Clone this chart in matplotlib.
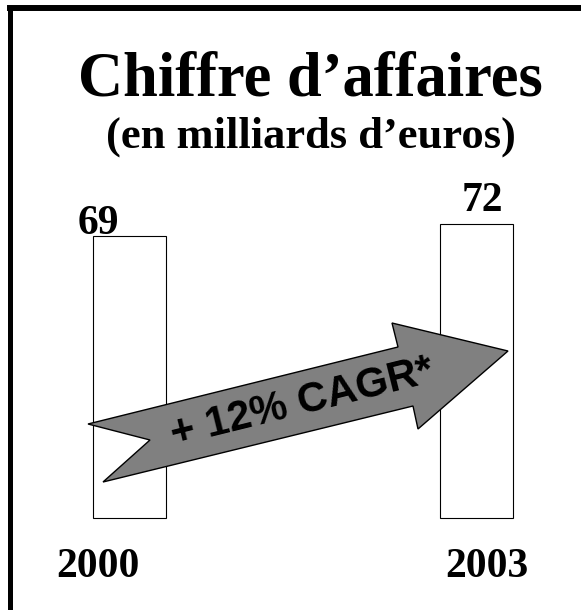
import matplotlib
matplotlib.use("Agg")
import matplotlib.pyplot as plt
from matplotlib.patches import Polygon
from matplotlib.lines import Line2D

# ---- data ----
years = ["2000", "2003"]
values = [69, 72]
value_labels = ["69", "72"]
title = "Chiffre d’affaires"
subtitle = "(en milliards d’euros)"
arrow_label = "+ 12% CAGR*"

W, H = 581, 610
fig = plt.figure(figsize=(W / 100, H / 100), dpi=100)
fig.patch.set_facecolor("white")

ax = fig.add_axes([0, 0, 1, 1])
ax.set_xlim(-0.3732, 1.3012)
ax.set_ylim(-22.67, 126.84)
ax.axis("off")

x = list(range(len(values)))
ax.bar(x, values, width=0.208, facecolor="white", edgecolor="black",
       linewidth=0.8, zorder=1)

serif = "Liberation Serif"
sans = "Liberation Sans"

# value labels
label_offsets = [(-31.5, 2), (5.5, 13)]
for xi, v, lab, off in zip(x, values, value_labels, label_offsets):
    ax.annotate(lab, (xi, v), xytext=off, textcoords="offset pixels",
                ha="center", va="baseline", fontsize=30, fontweight="bold",
                family=serif)

# year labels
year_offsets = [(-32, -59.5), (10, -59.5)]
for xi, yr, off in zip(x, years, year_offsets):
    ax.annotate(yr, (xi, 0), xytext=off, textcoords="offset pixels",
                ha="center", va="baseline", fontsize=30, fontweight="bold",
                family=serif)

# titles
fig.text(310 / W, 1 - 96 / H, title, ha="center", va="baseline",
         fontsize=45, fontweight="bold", family=serif)
fig.text(311 / W, 1 - 148 / H, subtitle, ha="center", va="baseline",
         fontsize=32, fontweight="bold", family=serif)

# growth arrow (decoration, in figure pixel space)
arrow_px = [(88, 424), (150, 440), (103, 482), (413, 406), (418, 429),
            (508, 351), (392, 323), (398, 347)]
arrow_pts = [(px / W, 1 - py / H) for px, py in arrow_px]
fig.patches.append(Polygon(arrow_pts, closed=True, facecolor="#808080",
                           edgecolor="black", linewidth=1.0,
                           transform=fig.transFigure, zorder=3))
fig.text(302 / W, 1 - 403 / H, arrow_label, ha="center", va="center",
         rotation=13.9, rotation_mode="anchor", fontsize=30,
         fontweight="bold", family=sans, zorder=4)

# frame (top and left edges)
fig.add_artist(Line2D([9.5 / W, 9.5 / W], [0, 1 - 8 / H], color="black",
                      linewidth=3.6, transform=fig.transFigure,
                      solid_capstyle="projecting"))
fig.add_artist(Line2D([9.5 / W, 1.02], [1 - 8 / H, 1 - 8 / H], color="black",
                      linewidth=4.3, transform=fig.transFigure,
                      solid_capstyle="projecting"))

fig.savefig("out.png", dpi=100, facecolor="white")
